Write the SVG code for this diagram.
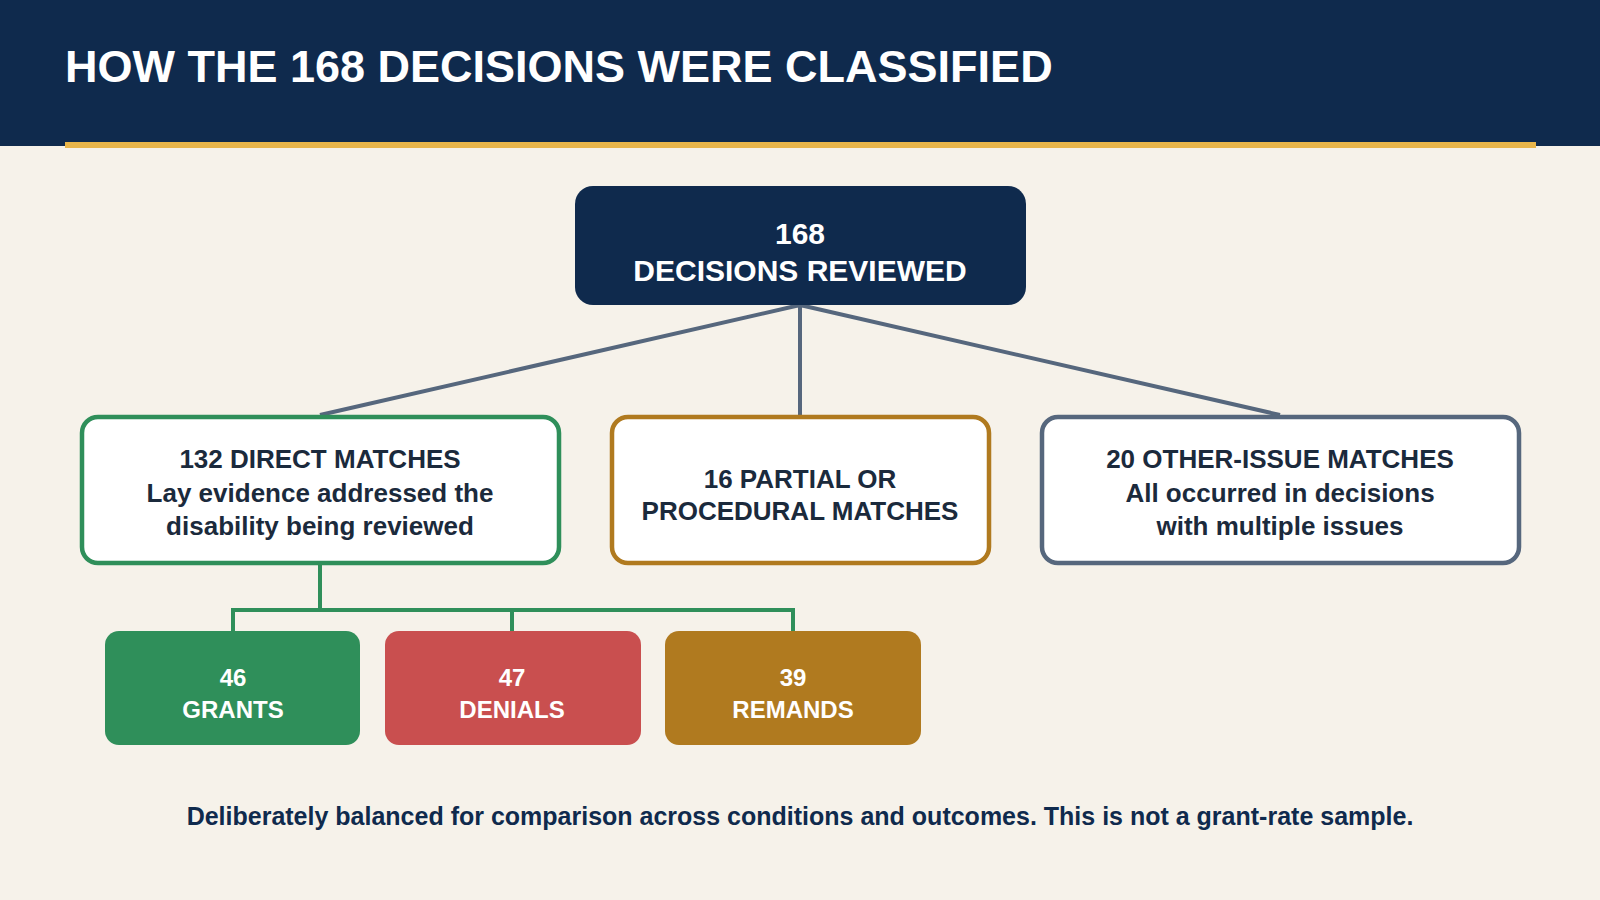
<svg xmlns="http://www.w3.org/2000/svg" width="1600" height="900" viewBox="0 0 1600 900">
<style>
text{font-family:"Liberation Sans",Arial,sans-serif;font-weight:bold;text-anchor:middle;dominant-baseline:central}
.w{fill:#fff}.d{fill:#1b2a3c}
.box{fill:#fff;stroke-width:4.5}
.c{fill:none;stroke:#56677d;stroke-width:4}
.g{fill:none;stroke:#2f8f5a;stroke-width:4}
</style>
<rect width="1600" height="900" fill="#f6f2ea"/>
<rect width="1600" height="146" fill="#0f2a4d"/>
<rect x="65" y="142" width="1471" height="6" fill="#e8b54a"/>
<text x="65" y="66" class="w" style="text-anchor:start;font-size:45px">HOW THE 168 DECISIONS WERE CLASSIFIED</text>
<g id="connectors">
<path class="c" d="M800 305L320 415M800 305V415M800 305L1280 415"/>
<path class="g" d="M320 563V610M233 631V610H793V631M512 610V631"/>
</g>
<g id="root"><rect x="575" y="186" width="451" height="119" rx="18" fill="#0f2a4d"/>
<text x="800" y="233" class="w" font-size="30">168</text><text x="800" y="270" class="w" font-size="30">DECISIONS REVIEWED</text></g>
<g id="direct"><rect class="box" x="82" y="417" width="477" height="146" rx="16" stroke="#2f8f5a"/>
<text x="320" y="459" class="d" font-size="26">132 DIRECT MATCHES</text><text x="320" y="493" class="d" font-size="26">Lay evidence addressed the</text><text x="320" y="526" class="d" font-size="26">disability being reviewed</text></g>
<g id="partial"><rect class="box" x="612" y="417" width="377" height="146" rx="16" stroke="#b07a1f"/>
<text x="800" y="479" class="d" font-size="26">16 PARTIAL OR</text><text x="800" y="511" class="d" font-size="26">PROCEDURAL MATCHES</text></g>
<g id="other"><rect class="box" x="1042" y="417" width="477" height="146" rx="16" stroke="#56677d"/>
<text x="1280" y="459" class="d" font-size="26">20 OTHER-ISSUE MATCHES</text><text x="1280" y="493" class="d" font-size="26">All occurred in decisions</text><text x="1280" y="526" class="d" font-size="26">with multiple issues</text></g>
<g id="grants"><rect x="105" y="631" width="255" height="114" rx="14" fill="#2f8f5a"/>
<text x="233" y="677" class="w" font-size="24">46</text><text x="233" y="709" class="w" font-size="24">GRANTS</text></g>
<g id="denials"><rect x="385" y="631" width="256" height="114" rx="14" fill="#c94f4f"/>
<text x="512" y="677" class="w" font-size="24">47</text><text x="512" y="709" class="w" font-size="24">DENIALS</text></g>
<g id="remands"><rect x="665" y="631" width="256" height="114" rx="14" fill="#b07a1f"/>
<text x="793" y="677" class="w" font-size="24">39</text><text x="793" y="709" class="w" font-size="24">REMANDS</text></g>
<text x="800" y="816" fill="#0f2a4d" font-size="25">Deliberately balanced for comparison across conditions and outcomes. This is not a grant-rate sample.</text>
</svg>
